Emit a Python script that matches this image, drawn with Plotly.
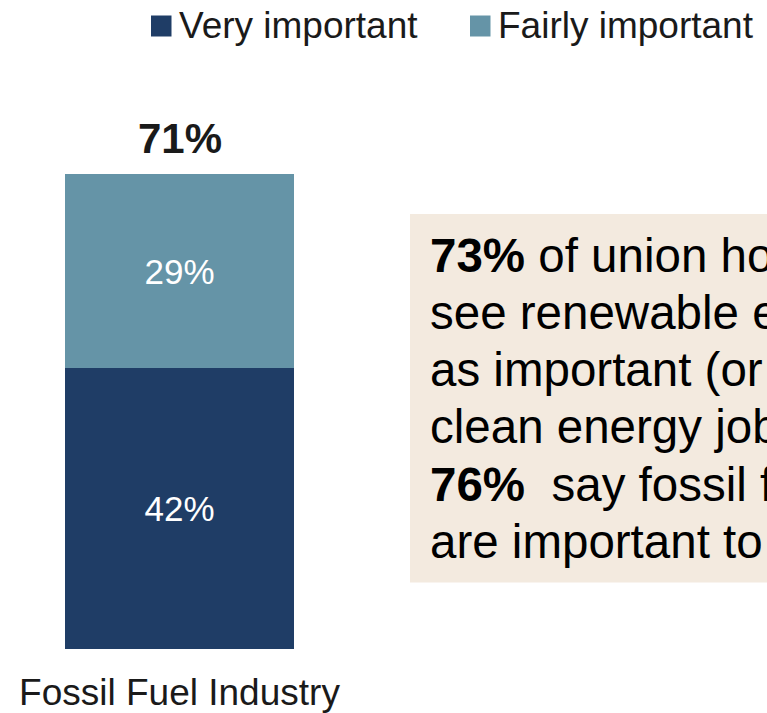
import plotly.graph_objects as go

# Survey result: importance of fossil fuel industry jobs
categories = ["Fossil Fuel Industry"]
series_names = ["Very important", "Fairly important"]
very_important = [42]
fairly_important = [29]
totals = [v + f for v, f in zip(very_important, fairly_important)]

callout_lines = [
    "<b>73%</b> of union households",
    "see renewable energy jobs",
    "as important (or more so than)",
    "clean energy jobs, while",
    "<b>76%</b>  say fossil fuel jobs",
    "are important to them",
]

W, H = 767, 713
M_L, M_R, M_T, M_B = 0, 0, 60, 64
PLOT_H = H - M_T - M_B
PLOT_W = W - M_L - M_R

FONT = "Liberation Sans, Arial, sans-serif"
DARK = "#1F3D66"
TEAL = "#6594A7"
BEIGE = "#F3EADF"
INK = "#1A1A1A"
CALLOUT_SIZE = 47.5


def px_x(p):
    return (p - M_L) / PLOT_W


def px_y(p):
    return (H - M_B - p) / PLOT_H


fig = go.Figure()
for name, vals, color in [
    (series_names[0], very_important, DARK),
    (series_names[1], fairly_important, TEAL),
]:
    fig.add_trace(go.Bar(
        x=categories, y=vals, name=name,
        marker=dict(color=color, line=dict(width=0)),
        texttemplate="%{y}%", textposition="inside",
        insidetextanchor="middle",
        textfont=dict(family=FONT, size=35, color="white"),
        hoverinfo="skip", showlegend=False,
    ))

annotations = []
# stacked totals above the bars
for c, t in zip(categories, totals):
    annotations.append(dict(
        x=c, y=t, xref="x", yref="y", text=f"<b>{t}%</b>",
        showarrow=False, yanchor="bottom", yshift=10,
        font=dict(family=FONT, size=42, color=INK),
    ))

# hand-drawn legend row
shapes = []
legend_items = [
    (series_names[0], DARK, 151, 177),
    (series_names[1], TEAL, 470, 496),
]
for name, color, sq_x, tx in legend_items:
    shapes.append(dict(
        type="rect", xref="paper", yref="paper",
        x0=px_x(sq_x), x1=px_x(sq_x + 20.5),
        y0=px_y(36.5), y1=px_y(15.5),
        fillcolor=color, line=dict(width=0),
    ))
    annotations.append(dict(
        x=px_x(tx), y=px_y(26), xref="paper", yref="paper",
        text=name, showarrow=False, xanchor="left", yanchor="middle",
        font=dict(family=FONT, size=37, color=INK),
    ))

# callout box
shapes.append(dict(
    type="rect", xref="paper", yref="paper",
    x0=px_x(410), x1=px_x(1200), y0=px_y(582.5), y1=px_y(214),
    fillcolor=BEIGE, line=dict(width=0), layer="below",
))
baseline0, step = 272, 57.2
for i, line in enumerate(callout_lines):
    base = baseline0 + i * step
    annotations.append(dict(
        x=px_x(428), y=px_y(base - 0.35 * CALLOUT_SIZE), xref="paper",
        yref="paper", text=line, showarrow=False, xanchor="left",
        yanchor="middle",
        font=dict(family=FONT, size=CALLOUT_SIZE, color="#000000"),
    ))

bar_left, bar_right = 65, 294
units_px = (bar_right - bar_left) / 0.5
x0 = -((bar_left + bar_right) / 2 - M_L) / units_px
x1 = x0 + PLOT_W / units_px

fig.update_layout(
    width=W, height=H,
    margin=dict(l=M_L, r=M_R, t=M_T, b=M_B, pad=0, autoexpand=False),
    barmode="stack", bargap=0.5,
    plot_bgcolor="white", paper_bgcolor="white",
    font=dict(family=FONT, color=INK),
    shapes=shapes, annotations=annotations,
    xaxis=dict(range=[x0, x1], showgrid=False, zeroline=False,
               showline=False, ticks="", ticklabelstandoff=18,
               automargin=False,
               tickfont=dict(family=FONT, size=37, color=INK)),
    yaxis=dict(range=[0, PLOT_H / 6.69], showgrid=False, zeroline=False,
               showline=False, showticklabels=False, ticks="",
               automargin=False),
)

fig.write_html("out.html")
